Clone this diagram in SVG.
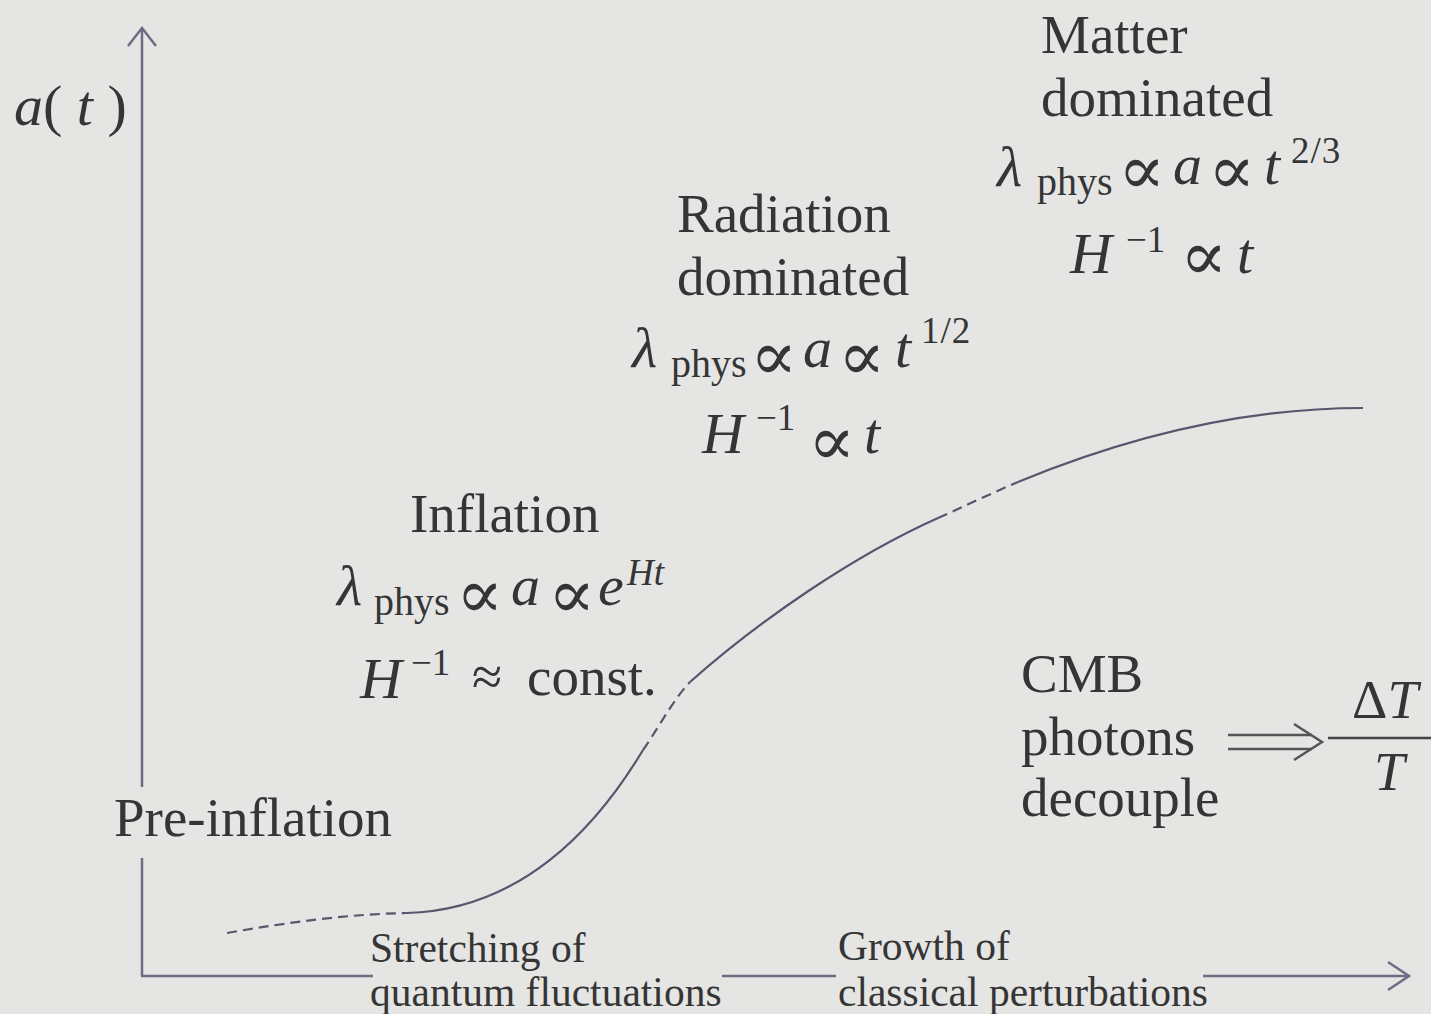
<svg xmlns="http://www.w3.org/2000/svg" width="1431" height="1014" viewBox="0 0 1431 1014">
<style>
.t{font-family:"Liberation Serif","Times New Roman",serif;fill:#353535;font-size:55px}
.m{font-family:"Liberation Serif","Times New Roman",serif;fill:#353535;font-size:58px;font-style:italic}
.sub{font-family:"Liberation Serif","Times New Roman",serif;fill:#353535;font-size:40px}
.sup{font-family:"Liberation Serif","Times New Roman",serif;fill:#353535;font-size:37px}
.op{font-family:"DejaVu Sans","DejaVu Serif",sans-serif;font-weight:200;fill:#353535;font-size:70px}
.b{font-family:"Liberation Serif","Times New Roman",serif;fill:#353535;font-size:41.5px}
.ax{stroke:#6c6c84;stroke-width:2.5;fill:none}
.cv{stroke:#56566c;stroke-width:2.2;fill:none}
.dash{stroke-dasharray:10 6}
</style>
<rect width="1431" height="1014" fill="#e5e5e3"/>
<g id="connectors">
  <line class="ax" x1="142" y1="28" x2="142" y2="787"/>
  <line class="ax" x1="142" y1="858" x2="142" y2="976"/>
  <polyline class="ax" points="128,46 142,28 156,46"/>
  <line class="ax" x1="141" y1="976" x2="373" y2="976"/>
  <line class="ax" x1="722" y1="976" x2="836" y2="976"/>
  <line class="ax" x1="1203" y1="976" x2="1409" y2="976"/>
  <polyline class="ax" points="1388,962 1409,976 1388,990"/>
  <path class="cv dash" d="M227,933 C290,922 350,914 407,913"/>
  <path class="cv" d="M407,913 C520,910 595,830 643,750"/>
  <path class="cv dash" d="M643,750 C659,727 673,700 690,682"/>
  <path class="cv" d="M690,682 C760,620 853,556 938,518"/>
  <path class="cv dash" d="M938,518 C965,506 992,493 1018,482"/>
  <path class="cv" d="M1018,482 C1120,440 1240,408 1363,408"/>
  <g id="implies" stroke="#555" stroke-width="2.5" fill="none">
    <line x1="1228" y1="735" x2="1312" y2="735"/>
    <line x1="1228" y1="749" x2="1312" y2="749"/>
    <polyline points="1294,724 1322,742 1294,760"/>
  </g>
</g>
<g id="axis-label">
  <text class="m" x="14" y="125" font-size="50">a<tspan font-style="normal">(</tspan> t <tspan font-style="normal">)</tspan></text>
</g>
<g id="matter">
  <text class="t" x="1041" y="53">Matter</text>
  <text class="t" x="1041" y="116">dominated</text>
  <text class="m" x="997" y="186">λ</text>
  <text class="sub" x="1037" y="195">phys</text>
  <text class="op" x="1118" y="194">∝</text>
  <text class="m" x="1173" y="184">a</text>
  <text class="op" x="1208" y="194">∝</text>
  <text class="m" x="1264" y="184">t</text>
  <text class="sup" x="1291" y="163" letter-spacing="1">2/3</text>
  <text class="m" x="1070" y="273" font-size="60">H</text>
  <text class="sup" x="1126" y="252">−1</text>
  <text class="op" x="1180" y="280">∝</text>
  <text class="m" x="1237" y="273">t</text>
</g>
<g id="radiation">
  <text class="t" x="677" y="232">Radiation</text>
  <text class="t" x="677" y="295">dominated</text>
  <text class="m" x="632" y="367">λ</text>
  <text class="sub" x="671" y="377">phys</text>
  <text class="op" x="750" y="380">∝</text>
  <text class="m" x="803" y="367">a</text>
  <text class="op" x="838" y="380">∝</text>
  <text class="m" x="895" y="367">t</text>
  <text class="sup" x="921" y="343" letter-spacing="1">1/2</text>
  <text class="m" x="702" y="453" font-size="60">H</text>
  <text class="sup" x="756" y="430">−1</text>
  <text class="op" x="808" y="465">∝</text>
  <text class="m" x="864" y="453">t</text>
</g>
<g id="inflation">
  <text class="t" x="410" y="532">Inflation</text>
  <text class="m" x="337" y="605">λ</text>
  <text class="sub" x="374" y="615">phys</text>
  <text class="op" x="456" y="618">∝</text>
  <text class="m" x="511" y="605">a</text>
  <text class="op" x="548" y="618">∝</text>
  <text class="m" x="598" y="605">e</text>
  <text class="sup" x="627" y="585" font-style="italic">Ht</text>
  <text class="m" x="360" y="698" font-size="60">H</text>
  <text class="sup" x="411" y="675">−1</text>
  <text class="t" x="472" y="695" font-size="48">≈</text>
  <text class="t" x="527" y="695">const.</text>
</g>
<g id="cmb">
  <text class="t" x="1021" y="692">CMB</text>
  <text class="t" x="1021" y="755">photons</text>
  <text class="t" x="1021" y="816">decouple</text>
  <text class="t" x="1352" y="718">Δ<tspan font-style="italic">T</tspan></text>
  <line x1="1328" y1="738" x2="1431" y2="738" stroke="#444" stroke-width="2.5"/>
  <text class="t" x="1374" y="790" font-style="italic">T</text>
</g>
<g id="preinflation">
  <text class="t" x="114" y="836">Pre-inflation</text>
</g>
<g id="stretching">
  <text class="b" x="370" y="962">Stretching of</text>
  <text class="b" x="370" y="1006">quantum fluctuations</text>
</g>
<g id="growth">
  <text class="b" x="838" y="960">Growth of</text>
  <text class="b" x="838" y="1006">classical perturbations</text>
</g>
</svg>
